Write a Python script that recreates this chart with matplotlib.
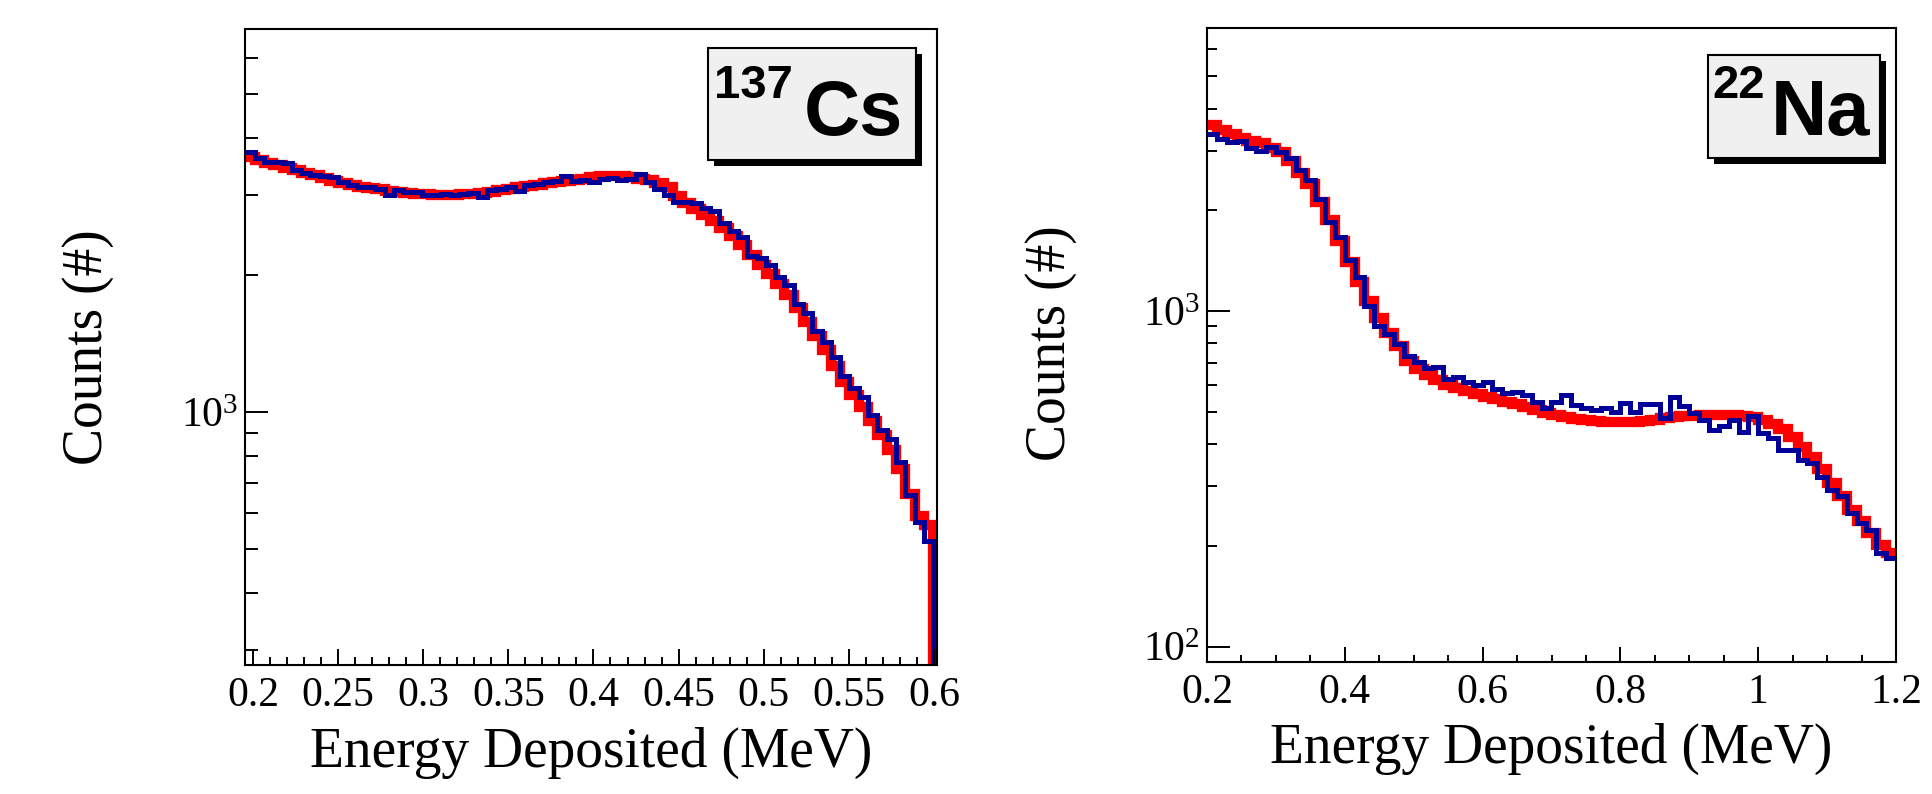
import numpy as np
import matplotlib
matplotlib.use('Agg')
import matplotlib.pyplot as plt
from matplotlib.ticker import LogLocator, NullFormatter, MultipleLocator, FuncFormatter
from matplotlib.patches import Rectangle

# ---------------- data ----------------
# 137Cs spectrum (left panel), equal-width bins
cs_bin_start = 0.1955
cs_bin_width = 0.00546
cs_blue = [3733, 3611, 3549, 3549, 3519, 3403, 3346, 3318, 3300, 3290,
           3207, 3154, 3128, 3118, 3085, 2999, 3074, 3049, 3049, 2999,
           2999, 3013, 2999, 3013, 3034, 2974, 3074, 3085, 3118, 3065,
           3154, 3170, 3207, 3222, 3300, 3222, 3235, 3207, 3246, 3262,
           3235, 3246, 3335, 3200, 3093, 3004, 2902, 2890, 2877, 2808,
           2765, 2598, 2499, 2428, 2204, 2183, 2100, 1981, 1906, 1731,
           1649, 1511, 1426, 1319, 1198, 1130, 1077, 987, 914, 871,
           775, 658, 574, 521]
cs_red = [3630, 3580, 3535, 3490, 3445, 3400, 3360, 3318, 3270, 3225,
          3182, 3155, 3130, 3105, 3085, 3068, 3050, 3030, 3020, 3010,
          3003, 2999, 3002, 3008, 3018, 3030, 3050, 3075, 3100, 3120,
          3140, 3160, 3182, 3200, 3220, 3240, 3260, 3280, 3295, 3300,
          3295, 3280, 3260, 3230, 3180, 3120, 2980, 2880, 2790, 2710,
          2630, 2540, 2440, 2330, 2215, 2110, 2010, 1910, 1810, 1690,
          1580, 1470, 1370, 1265, 1165, 1090, 1025, 955, 890, 825,
          750, 660, 590, 565]

# 22Na spectrum (right panel)
na_bin_start = 0.2
na_bin_width = 1.0 / 70
na_blue = [3370, 3250, 3190, 3200, 3050, 2990, 3070, 2960, 2860, 2620,
           2450, 2150, 1840, 1664, 1420, 1260, 1030, 900, 850, 795,
           731, 705, 675, 680, 625, 637, 612, 600, 615, 585,
           569, 572, 560, 535, 515, 535, 560, 525, 515, 507,
           515, 500, 530, 500, 528, 528, 480, 555, 520, 496,
           474, 442, 453, 474, 437, 485, 432, 418, 386, 386,
           360, 352, 321, 293, 280, 250, 233, 223, 190, 183]
na_red = [3580, 3460, 3360, 3280, 3210, 3150, 3060, 2970, 2790, 2580,
          2380, 2110, 1860, 1610, 1400, 1220, 1070, 950, 860, 785,
          710, 672, 645, 622, 603, 590, 576, 564, 555, 546,
          536, 527, 516, 505, 495, 489, 483, 477, 472, 469,
          467, 466, 466, 468, 471, 474, 478, 482, 485, 487,
          489, 490, 490, 489, 487, 484, 474, 460, 445, 420,
          392, 366, 337, 308, 281, 256, 236, 218, 201, 190]

cs_xlim = (0.1953, 0.6018)
cs_ylim = (278, 6950)
na_xlim = (0.2, 1.2)
na_ylim = (90, 6950)

cs_label = ('137', 'Cs')
na_label = ('22', 'Na')
xlabel = 'Energy Deposited (MeV)'
ylabel = 'Counts (#)'

# ---------------- style ----------------
plt.rcParams['font.family'] = ['Liberation Serif', 'DejaVu Serif']
plt.rcParams['mathtext.fontset'] = 'custom'
plt.rcParams['mathtext.rm'] = 'Liberation Serif'
plt.rcParams['mathtext.it'] = 'Liberation Serif:italic'
plt.rcParams['mathtext.bf'] = 'Liberation Serif:bold'
plt.rcParams['mathtext.default'] = 'regular'

RED = '#ff0000'
BLUE = '#000099'
W, H = 1933, 794

fig = plt.figure(figsize=(W / 100, H / 100), dpi=100)


def frac(x0, y0, x1, y1):
    return [x0 / W, 1 - y1 / H, (x1 - x0) / W, (y1 - y0) / H]


ax1 = fig.add_axes(frac(245, 29, 937, 665))
ax2 = fig.add_axes(frac(1207, 28, 1896, 662))


def draw(ax, start, width, red, blue, ylim, drop):
    n = len(red)
    edges = start + width * np.arange(n + 1)
    r = np.asarray(red, float)
    b = np.asarray(blue, float)
    if drop:
        edges = np.append(edges, edges[-1] + width)
        r = np.append(r, ylim[0] * 0.1)
        b = np.append(b, ylim[0] * 0.1)
    ax.stairs(r, edges, color=RED, linewidth=7.4, baseline=None, joinstyle='miter')
    ax.stairs(b, edges, color=BLUE, linewidth=3.6, baseline=None, joinstyle='miter')


draw(ax1, cs_bin_start, cs_bin_width, cs_red, cs_blue, cs_ylim, True)
draw(ax2, na_bin_start, na_bin_width, na_red, na_blue, na_ylim, False)

fmt = FuncFormatter(lambda v, p: '%g' % round(v, 6))

for ax, xl, yl, xmaj, xmin, ymin_len, xmaj_len, xmin_len in (
        (ax1, cs_xlim, cs_ylim, 0.05, 0.01, 9.4, 11.5, 5.8),
        (ax2, na_xlim, na_ylim, 0.2, 0.05, 7.2, 10.8, 5.0)):
    ax.set_yscale('log')
    ax.set_xlim(*xl)
    ax.set_ylim(*yl)
    ax.xaxis.set_major_locator(MultipleLocator(xmaj))
    ax.xaxis.set_minor_locator(MultipleLocator(xmin))
    ax.xaxis.set_major_formatter(fmt)
    ax.yaxis.set_major_locator(LogLocator(base=10))
    ax.yaxis.set_minor_locator(LogLocator(base=10, subs=np.arange(2, 10)))
    ax.yaxis.set_minor_formatter(NullFormatter())
    ax.tick_params(which='both', direction='in', top=False, right=False,
                   width=1.4, labelsize=30, colors='black')
    ax.tick_params(axis='x', which='major', length=xmaj_len, pad=8)
    ax.tick_params(axis='x', which='minor', length=xmin_len)
    ax.tick_params(axis='y', which='major', length=16.5, pad=5)
    ax.tick_params(axis='y', which='minor', length=ymin_len)
    for s in ax.spines.values():
        s.set_linewidth(1.5)

# axis titles
fig.text(591 / W, 1 - 767 / H, xlabel, ha='center', va='baseline', fontsize=40)
fig.text(1551 / W, 1 - 763 / H, xlabel, ha='center', va='baseline', fontsize=40)
fig.text(102 / W, 1 - 347 / H, ylabel, rotation=90, rotation_mode='anchor',
         ha='center', va='baseline', fontsize=40)
fig.text(1065 / W, 1 - 343 / H, ylabel, rotation=90, rotation_mode='anchor',
         ha='center', va='baseline', fontsize=40)


def label_box(x0, y0, x1, y1, label, sup_x, main_x):
    sh = Rectangle(((x0 + 6) / W, 1 - (y1 + 6) / H), (x1 - x0) / W, (y1 - y0) / H,
                   transform=fig.transFigure, facecolor='black', edgecolor='none')
    bx = Rectangle((x0 / W, 1 - y1 / H), (x1 - x0) / W, (y1 - y0) / H,
                   transform=fig.transFigure, facecolor='#f0f0f0', edgecolor='black',
                   linewidth=1.5)
    fig.add_artist(sh)
    fig.add_artist(bx)
    fig.text(sup_x / W, 1 - 98 / H, label[0], fontsize=34, fontweight='bold',
             family=['Liberation Sans', 'DejaVu Sans'], ha='left', va='baseline')
    fig.text(main_x / W, 1 - 135 / H, label[1], fontsize=56, fontweight='bold',
             family=['Liberation Sans', 'DejaVu Sans'], ha='left', va='baseline')


label_box(708, 48, 916, 160, cs_label, 714, 804)
label_box(1708, 55, 1880, 158, na_label, 1712, 1771)

fig.savefig('out.png', dpi=100)
